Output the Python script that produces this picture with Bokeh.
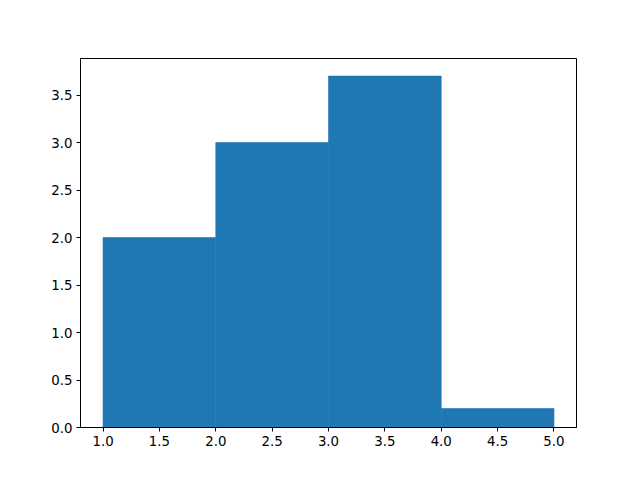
from bokeh.plotting import figure
from bokeh.embed import file_html
from bokeh.resources import INLINE
from bokeh.models import FixedTicker, Range1d

bin_left = [1.0, 2.0, 3.0, 4.0]
bin_right = [2.0, 3.0, 4.0, 5.0]
counts = [2.0, 3.0, 3.7, 0.2]
x_ticks = [1.0, 1.5, 2.0, 2.5, 3.0, 3.5, 4.0, 4.5, 5.0]
y_ticks = [0.0, 0.5, 1.0, 1.5, 2.0, 2.5, 3.0, 3.5]

p = figure(width=624, height=464, output_backend="svg", toolbar_location=None,
           x_range=Range1d(0.8, 5.2), y_range=Range1d(0, 3.885),
           min_border_left=80, min_border_right=48, min_border_top=58, min_border_bottom=37)
p.frame_width = 496
p.frame_height = 369

p.quad(left=bin_left, right=bin_right, bottom=0, top=counts,
       fill_color="#1f77b4", line_color="#1f77b4", line_width=0.6)

p.grid.visible = False
p.outline_line_color = "black"
p.outline_line_width = 1
p.background_fill_color = "white"
p.border_fill_color = "white"

for ax in (p.xaxis, p.yaxis):
    ax.axis_line_color = "black"
    ax.major_tick_line_color = "black"
    ax.major_tick_in = 0
    ax.major_tick_out = 4
    ax.minor_tick_line_color = None
    ax.major_label_text_font = "DejaVu Sans"
    ax.major_label_text_font_size = "10pt"
    ax.major_label_text_color = "black"
    ax.major_label_standoff = 4

p.xaxis.ticker = FixedTicker(ticks=x_ticks)
p.yaxis.ticker = FixedTicker(ticks=y_ticks)
p.xaxis.major_label_overrides = {t: f"{t:.1f}" for t in x_ticks}
p.yaxis.major_label_overrides = {t: f"{t:.1f}" for t in y_ticks}

open("out.html", "w").write(file_html(p, INLINE))
